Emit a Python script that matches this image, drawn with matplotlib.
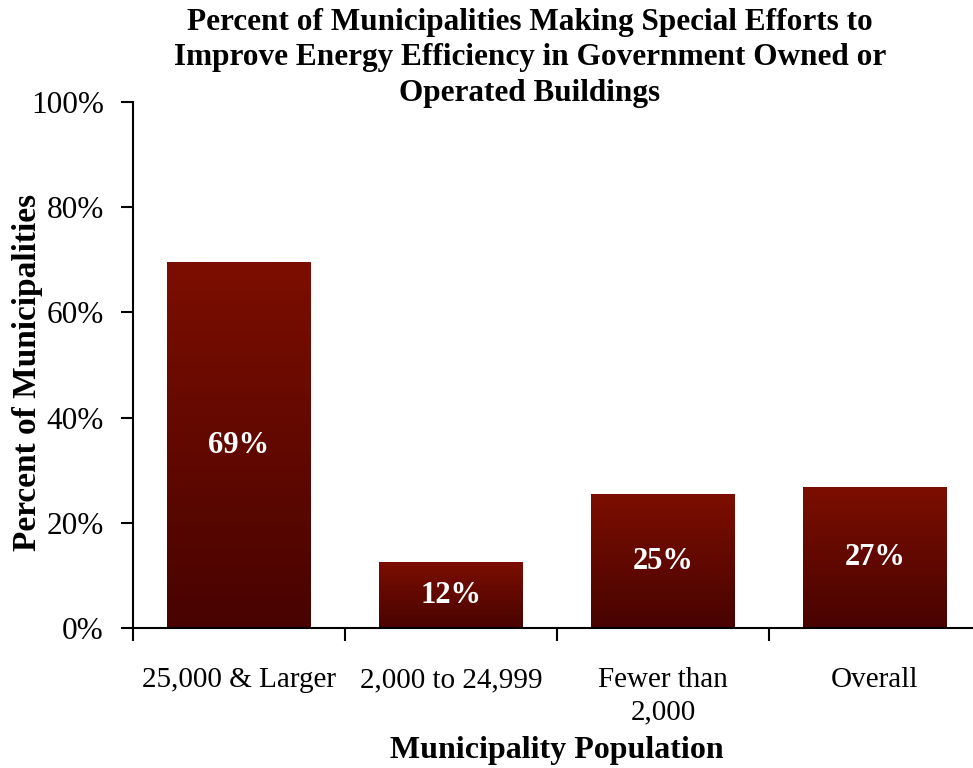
import numpy as np
import matplotlib.pyplot as plt
from matplotlib.colors import LinearSegmentedColormap
from matplotlib.ticker import PercentFormatter

categories = ['25,000 & Larger', '2,000 to 24,999', 'Fewer than\n2,000', 'Overall']
values = [69.4, 12.4, 25.3, 26.8]
labels = ['69%', '12%', '25%', '27%']

plt.rcParams['font.family'] = ['Liberation Serif', 'DejaVu Serif']

fig = plt.figure(figsize=(9.73, 7.68), dpi=100)
ax = fig.add_axes([133 / 973, 140 / 768, 848 / 973, 526 / 768])

# gradient fill: dark at bottom, brighter red at top
grad = LinearSegmentedColormap.from_list('bar', ['#480300', '#7c0e00'])
width = 0.675
x = np.arange(len(categories))
bars = ax.bar(x, values, width=width, color='none')
for b in bars:
    x0, y0 = b.get_x(), b.get_y()
    ax.imshow(np.linspace(0, 1, 256).reshape(-1, 1), cmap=grad, origin='lower',
              extent=[x0, x0 + b.get_width(), y0, y0 + b.get_height()],
              aspect='auto', zorder=2)

for xi, v, lab in zip(x, values, labels):
    ax.text(xi, v / 2, lab, ha='center', va='center', color='white',
            fontsize=22, fontweight='bold', zorder=3)

ax.set_xlim(-0.5, len(categories) - 0.5)
ax.set_ylim(0, 100)
ax.set_yticks(np.arange(0, 101, 20))
ax.yaxis.set_major_formatter(PercentFormatter(decimals=0))
ax.set_xticks(np.arange(-0.5, len(categories), 1))
ax.set_xticklabels([])
ax.set_xticks(x, minor=True)
ax.set_xticklabels(categories, minor=True, fontsize=21)
ax.tick_params(axis='x', which='minor', length=0, pad=28)
ax.tick_params(axis='x', which='major', length=9, width=1.5, direction='out')
ax.tick_params(axis='y', length=9, width=1.5, labelsize=22.5, pad=12)
for lbl in ax.get_xticklabels(minor=True):
    lbl.set_linespacing(1.3)

for s in ['top', 'right']:
    ax.spines[s].set_visible(False)
ax.spines['left'].set_linewidth(1.5)
ax.spines['bottom'].set_linewidth(1.5)

fig.text(28 / 973, 1 - 372 / 768, 'Percent of Municipalities', rotation=90,
         ha='center', va='center', fontsize=24, fontweight='bold')
ax.set_xlabel('Municipality Population', fontsize=23, fontweight='bold', labelpad=8)

fig.text(530 / 973, 1 - 58 / 768,
         'Percent of Municipalities Making Special Efforts to\n'
         'Improve Energy Efficiency in Government Owned or\n'
         'Operated Buildings',
         ha='center', va='center', fontsize=22.5, fontweight='bold', linespacing=1.3)

fig.savefig('out.png', dpi=100)
